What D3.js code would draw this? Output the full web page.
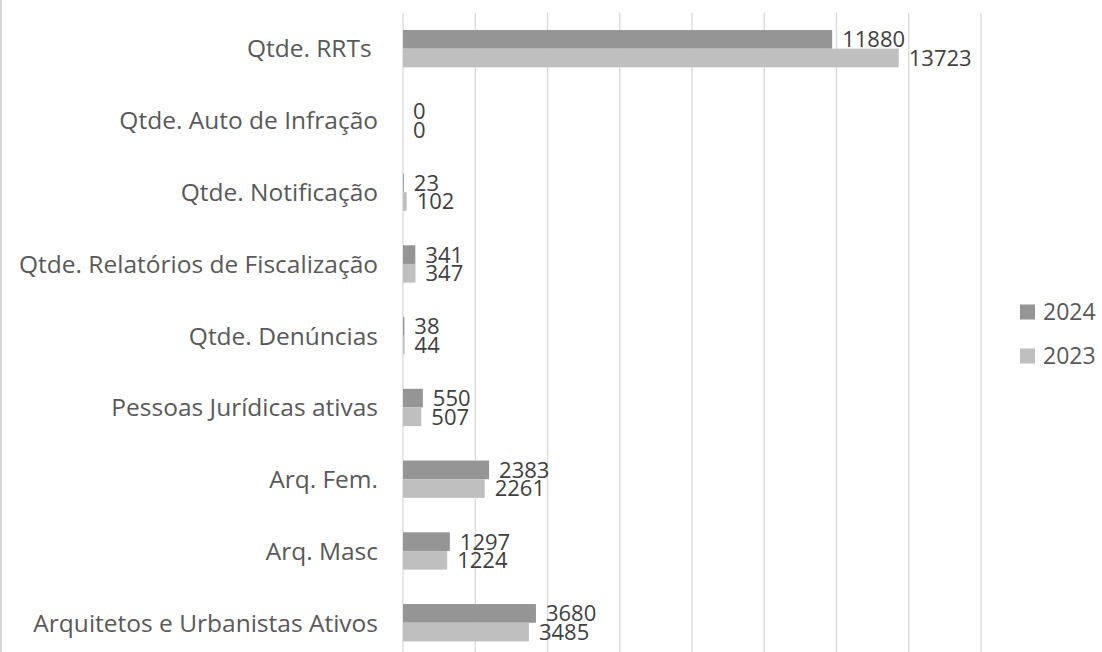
<!DOCTYPE html>
<html>
<head>
<meta charset="utf-8">
<script src="https://cdn.jsdelivr.net/npm/d3@7"></script>
<style>
  body { margin: 0; background: #fff; }
  svg { display: block; font-family: "Open Sans", sans-serif; }
</style>
</head>
<body>
<div id="chart"></div>
<script>
// chart data
const categories = [
    "Qtde. RRTs ",
    "Qtde. Auto de Infração",
    "Qtde. Notificação",
    "Qtde. Relatórios de Fiscalização",
    "Qtde. Denúncias",
    "Pessoas Jurídicas ativas",
    "Arq. Fem.",
    "Arq. Masc",
    "Arquitetos e Urbanistas Ativos"
];
const series_names = ["2024", "2023"];
const values_2024 = [11880, 0, 23, 341, 38, 550, 2383, 1297, 3680];
const values_2023 = [13723, 0, 102, 347, 44, 507, 2261, 1224, 3485];
const x_ticks = [0, 2000, 4000, 6000, 8000, 10000, 12000, 14000, 16000];

// sizes
const width = 1102;
const height = 652;
const plot = { left: 403, right: 981, top: 12.8, bottom: 658.6 };
const colors = { "2024": "#959595", "2023": "#bfbfbf" };

const svg = d3.select("#chart")
    .append("svg")
    .attr("width", width)
    .attr("height", height);

// x-scale
const x = d3.scaleLinear()
    .domain([0, 16000])
    .range([plot.left, plot.right]);

// y-scale for categories, then one for the two years inside each band
const y = d3.scaleBand()
    .domain(categories)
    .range([plot.top, plot.bottom])
    .paddingInner(0.48)
    .paddingOuter(0.24);

const y_sub = d3.scaleBand()
    .domain(series_names)
    .range([0, y.bandwidth()]);

// left border of the chart box
svg.append("rect")
    .attr("x", 0)
    .attr("y", 0)
    .attr("width", 2)
    .attr("height", height)
    .attr("fill", "#d9d9d9");

// vertical grid lines
svg.append("g")
    .selectAll("line")
    .data(x_ticks)
    .enter()
    .append("line")
    .attr("x1", d => x(d))
    .attr("x2", d => x(d))
    .attr("y1", plot.top)
    .attr("y2", plot.bottom)
    .attr("stroke", "#d9d9d9")
    .attr("stroke-width", 1.3);

// rows of data
const rows = categories.map((c, i) => ({
    category: c,
    values: [
        { year: "2024", value: values_2024[i] },
        { year: "2023", value: values_2023[i] }
    ]
}));

const groups = svg.append("g")
    .selectAll("g")
    .data(rows)
    .enter()
    .append("g")
    .attr("transform", d => "translate(0," + y(d.category) + ")");

// bars
groups.selectAll("rect")
    .data(d => d.values)
    .enter()
    .append("rect")
    .attr("x", x(0))
    .attr("y", d => y_sub(d.year))
    .attr("width", d => x(d.value) - x(0))
    .attr("height", y_sub.bandwidth())
    .attr("fill", d => colors[d.year]);

// value labels
groups.selectAll("text")
    .data(d => d.values)
    .enter()
    .append("text")
    .attr("x", d => x(d.value) + 10)
    .attr("y", d => y_sub(d.year) + y_sub.bandwidth() / 2)
    .attr("dy", "0.36em")
    .attr("font-size", "22px")
    .attr("fill", "#404040")
    .text(d => d.value);

// category labels
svg.append("g")
    .selectAll("text")
    .data(categories)
    .enter()
    .append("text")
    .attr("x", plot.left - 25)
    .attr("y", d => y(d) + y.bandwidth() / 2)
    .attr("dy", "0.36em")
    .attr("text-anchor", "end")
    .attr("font-size", "24.5px")
    .attr("fill", "#595959")
    .style("white-space", "pre")
    .text(d => d);

// legend
const legend = svg.append("g")
    .selectAll("g")
    .data(series_names)
    .enter()
    .append("g")
    .attr("transform", (d, i) => "translate(1020," + (312 + i * 44) + ")");

legend.append("rect")
    .attr("x", 0)
    .attr("y", -7.5)
    .attr("width", 15)
    .attr("height", 15)
    .attr("fill", d => colors[d]);

legend.append("text")
    .attr("x", 23)
    .attr("y", 0)
    .attr("dy", "0.36em")
    .attr("font-size", "23px")
    .attr("fill", "#595959")
    .text(d => d);
</script>
</body>
</html>
